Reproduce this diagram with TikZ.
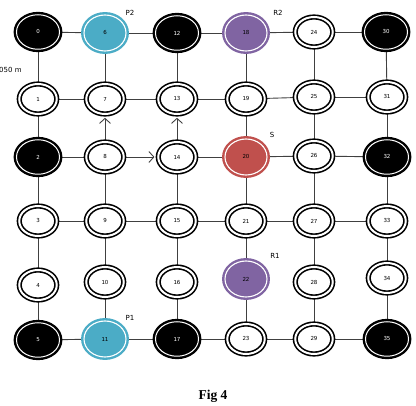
\documentclass[tikz,border=0pt]{standalone}
\usepackage{fontspec}
\setmainfont{DejaVu Sans}
\newfontfamily\figfont{Liberation Serif}
\usetikzlibrary{shapes.geometric,arrows.meta,backgrounds}
\definecolor{pblue}{HTML}{4BACC6}
\definecolor{ppurple}{HTML}{8064A2}
\definecolor{pred}{HTML}{C0504D}
\begin{document}
\begin{tikzpicture}[x=1pt,y=-1pt,
 every node/.style={font=\fontsize{5.5}{6.5}\selectfont},
 wnode/.style={ellipse, draw=black, line width=1.6pt, double=white, double distance=2pt, minimum width=37.5pt, minimum height=30pt, inner sep=0pt},
 bnode/.style={ellipse, draw=black, fill=black, text=white, line width=2.4pt, double=white, double distance=1pt, minimum width=43pt, minimum height=34.5pt, inner sep=0pt},
 cnode/.style={ellipse, draw=#1, fill=#1, line width=2.4pt, double=white, double distance=1.1pt, minimum width=42pt, minimum height=36pt, inner sep=0pt},
 link/.style={draw=black!75, line width=0.9pt},
 arr/.style={link, -{Straight Barb[length=5pt,width=11pt]}, shorten >=3pt},
 lbl/.style={font=\fontsize{7}{8}\selectfont, inner sep=0pt}]
\begin{scope}[on background layer]
\fill[white] (0,0) rectangle (416,406);
\end{scope}
\useasboundingbox (0,0) rectangle (416,406);
% column 0
\node[bnode] (n0) at (38,32) {0};
\node[wnode] (n1) at (38,99) {1};
\node[bnode] (n2) at (38,157) {2};
\node[wnode] (n3) at (38,221) {3};
\node[wnode] (n4) at (38,285) {4};
\node[bnode] (n5) at (38,340) {5};
% column 1
\node[cnode=pblue] (n6) at (105,33) {6};
\node[wnode] (n7) at (105,99) {7};
\node[wnode] (n8) at (105,157) {8};
\node[wnode] (n9) at (105,221) {9};
\node[wnode] (n10) at (105,282) {10};
\node[cnode=pblue] (n11) at (105,339) {11};
% column 2
\node[bnode] (n12) at (177,33) {12};
\node[wnode] (n13) at (177,99) {13};
\node[wnode] (n14) at (177,157) {14};
\node[wnode] (n15) at (177,221) {15};
\node[wnode] (n16) at (177,282) {16};
\node[bnode] (n17) at (177,339) {17};
% column 3
\node[cnode=ppurple] (n18) at (246,33) {18};
\node[wnode] (n19) at (246,99) {19};
\node[cnode=pred] (n20) at (246,157) {20};
\node[wnode] (n21) at (246,221) {21};
\node[cnode=ppurple] (n22) at (246,279) {22};
\node[wnode] (n23) at (246,339) {23};
% column 4
\node[wnode] (n24) at (314,32) {24};
\node[wnode] (n25) at (314,97) {25};
\node[wnode] (n26) at (314,156) {26};
\node[wnode] (n27) at (314,221) {27};
\node[wnode] (n28) at (314,282) {28};
\node[wnode] (n29) at (314,339) {29};
% column 5
\node[bnode] (n30) at (386,32) {30};
\node[wnode] (n31) at (387,97) {31};
\node[bnode] (n32) at (387,157) {32};
\node[wnode] (n33) at (387,221) {33};
\node[wnode] (n34) at (387,278) {34};
\node[bnode] (n35) at (387,339) {35};
% labels
\node[lbl] (lp2) at (130,13) {P2};
\node[lbl] (lr2) at (278,13) {R2};
\node[lbl] (ls) at (272,135) {S};
\node[lbl] (lr1) at (275,256) {R1};
\node[lbl] (lp1) at (130,318) {P1};
\node[lbl, anchor=west] (ldist) at (-1,70) {050 m};
\node[font=\figfont\bfseries\fontsize{13.5}{15}\selectfont] (fig) at (213,396) {Fig 4};
% connectors
\begin{scope}[on background layer]
\foreach \a/\b in {0/6,6/12,12/18,18/24,24/30, 1/7,7/13,13/19,19/25,25/31, 2/8,14/20,20/26,26/32, 3/9,9/15,15/21,21/27,27/33, 5/11,11/17,17/23,23/29,29/35,
 0/1,1/2,2/3,3/4,4/5, 6/7,8/9,9/10,10/11, 12/13,14/15,15/16,16/17, 18/19,19/20,20/21,21/22,22/23, 24/25,25/26,26/27,27/28,28/29, 30/31,31/32,32/33,33/34,34/35}
  {\draw[link] (n\a) -- (n\b);}
\draw[arr] (n8) -- (n7);
\draw[arr] (n14) -- (n13);
\draw[arr] (n8) -- (n14);
\end{scope}
\end{tikzpicture}
\end{document}
